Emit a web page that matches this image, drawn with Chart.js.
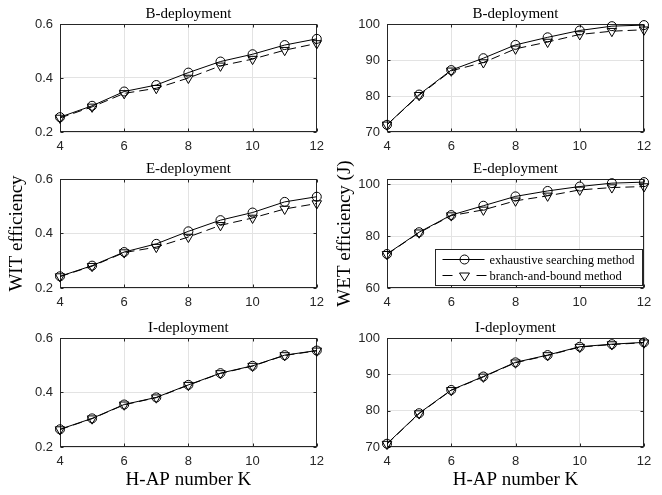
<!DOCTYPE html>
<html lang="en">
<head>
  <meta charset="UTF-8" />
  <title>WIT / WET efficiency vs H-AP number</title>
  <script src="https://cdn.jsdelivr.net/npm/chart.js"></script>
  <style>
    body { margin: 0; background: #fff; }
    .panel { position: absolute; }
  </style>
</head>
<body>
  <!-- 3 x 2 grid of subplots -->
  <div class="panel" style="left:0;top:0;width:331px;height:155px"><canvas id="witB"></canvas></div>
  <div class="panel" style="left:331px;top:0;width:331px;height:155px"><canvas id="wetB"></canvas></div>
  <div class="panel" style="left:0;top:155px;width:331px;height:155px"><canvas id="witE"></canvas></div>
  <div class="panel" style="left:331px;top:155px;width:331px;height:155px"><canvas id="wetE"></canvas></div>
  <div class="panel" style="left:0;top:310px;width:331px;height:185px"><canvas id="witI"></canvas></div>
  <div class="panel" style="left:331px;top:310px;width:331px;height:185px"><canvas id="wetI"></canvas></div>

  <script>
    // H-AP number K
    const K = [4, 5, 6, 7, 8, 9, 10, 11, 12];

    // B-deployment
    const witB_exh = [0.255, 0.297, 0.350, 0.374, 0.420, 0.461, 0.488, 0.522, 0.545];
    const witB_bnb = [0.252, 0.293, 0.343, 0.362, 0.400, 0.445, 0.470, 0.503, 0.528];
    const wetB_exh = [72.0, 80.4, 87.2, 90.5, 94.2, 96.3, 98.2, 99.4, 99.7];
    const wetB_bnb = [72.0, 80.2, 87.0, 89.3, 93.1, 95.0, 97.1, 98.0, 98.4];

    // E-deployment
    const witE_exh = [0.243, 0.282, 0.332, 0.362, 0.408, 0.449, 0.477, 0.516, 0.535];
    const witE_bnb = [0.242, 0.280, 0.330, 0.350, 0.387, 0.430, 0.457, 0.490, 0.510];
    const wetE_exh = [73.1, 81.5, 88.1, 91.7, 95.3, 97.4, 99.1, 100.4, 100.8];
    const wetE_bnb = [73.0, 81.3, 87.9, 90.1, 93.6, 95.5, 97.8, 98.7, 99.1];

    // I-deployment
    const witI_exh = [0.265, 0.305, 0.356, 0.382, 0.428, 0.471, 0.498, 0.537, 0.554];
    const witI_bnb = [0.264, 0.304, 0.355, 0.381, 0.427, 0.470, 0.497, 0.536, 0.553];
    const wetI_exh = [70.9, 79.3, 85.7, 89.4, 93.3, 95.3, 97.6, 98.3, 98.8];
    const wetI_bnb = [70.8, 79.2, 85.6, 89.3, 93.2, 95.2, 97.5, 98.2, 98.7];

    // tick labels
    const xTicks = [4, 6, 8, 10, 12];
    const witTicks = [0.2, 0.4, 0.6];
    const wetTicks = [70, 80, 90, 100];
    const wetETicks = [60, 80, 100];

    const seriesNames = ['exhaustive searching method', 'branch-and-bound method'];

    const tickFont = { family: 'Liberation Sans', size: 13 };
    const serif = 'Liberation Serif';

    // MATLAB-style axes box with inward tick marks
    const axesBox = {
      id: 'axesBox',
      beforeDatasetsDraw(chart) {
        const { ctx, chartArea: a, scales: { x, y } } = chart;
        const l = Math.round(a.left) + 0.5, r = Math.round(a.right) - 0.5;
        const t = Math.round(a.top) + 0.5, b = Math.round(a.bottom) - 0.5;
        ctx.save();
        ctx.strokeStyle = '#262626';
        ctx.lineWidth = 1;
        ctx.strokeRect(l, t, r - l, b - t);
        ctx.beginPath();
        x.ticks.forEach(tk => {
          const px = Math.round(x.getPixelForValue(tk.value)) + 0.5;
          ctx.moveTo(px, b); ctx.lineTo(px, b - 3);
          ctx.moveTo(px, t); ctx.lineTo(px, t + 3);
        });
        y.ticks.forEach(tk => {
          const py = Math.round(y.getPixelForValue(tk.value)) + 0.5;
          ctx.moveTo(l, py); ctx.lineTo(l + 3, py);
          ctx.moveTo(r, py); ctx.lineTo(r - 3, py);
        });
        ctx.stroke();
        ctx.restore();
      }
    };

    // legend box drawn inside the plot area (bottom right)
    const insideLegend = {
      id: 'insideLegend',
      afterDraw(chart) {
        const { ctx, chartArea: a } = chart;
        const w = 207, h = 36;
        const left = Math.round(a.right) - w - 1.5, top = Math.round(a.bottom) - h - 2.5;
        ctx.save();
        ctx.fillStyle = '#fff';
        ctx.fillRect(left, top, w, h);
        ctx.strokeStyle = '#262626';
        ctx.lineWidth = 1;
        ctx.strokeRect(left, top, w, h);
        ctx.font = '12.5px ' + serif;
        ctx.textBaseline = 'middle';
        ctx.fillStyle = '#000';
        chart.data.datasets.forEach((ds, i) => {
          const yy = top + 10 + i * 16;
          ctx.strokeStyle = '#000';
          ctx.beginPath();
          if (i === 0) {
            ctx.moveTo(left + 7, yy); ctx.lineTo(left + 49, yy);
          } else {
            ctx.moveTo(left + 7, yy); ctx.lineTo(left + 17, yy);
            ctx.moveTo(left + 41, yy); ctx.lineTo(left + 51, yy);
          }
          ctx.stroke();
          const mx = left + 29;
          ctx.beginPath();
          if (i === 0) {
            ctx.arc(mx, yy, 4.5, 0, Math.PI * 2);
          } else {
            ctx.moveTo(mx - 5, yy - 2.5);
            ctx.lineTo(mx + 5, yy - 2.5);
            ctx.lineTo(mx, yy + 5.5);
            ctx.closePath();
          }
          ctx.stroke();
          ctx.fillText(ds.label, left + 54, yy + 1);
        });
        ctx.restore();
      }
    };

    function makeChart(id, cfg) {
      const toPts = arr => K.map((k, i) => ({ x: k, y: arr[i] }));
      return new Chart(document.getElementById(id), {
        type: 'line',
        data: {
          datasets: [{
            label: seriesNames[0],
            data: toPts(cfg.exh),
            borderColor: '#000',
            borderWidth: 1,
            pointStyle: 'circle',
            pointRadius: 4.5,
            pointBorderColor: '#000',
            pointBackgroundColor: 'rgba(0,0,0,0)',
            pointBorderWidth: 1,
            clip: false
          }, {
            label: seriesNames[1],
            data: toPts(cfg.bnb),
            borderColor: '#000',
            borderWidth: 1,
            borderDash: [9, 5],
            pointStyle: 'triangle',
            pointRotation: 180,
            pointRadius: 5.5,
            pointBorderColor: '#000',
            pointBackgroundColor: 'rgba(0,0,0,0)',
            pointBorderWidth: 1,
            clip: false
          }]
        },
        options: {
          animation: false,
          responsive: true,
          maintainAspectRatio: false,
          layout: { padding: { left: 0, right: cfg.padRight, top: 0, bottom: 0 } },
          plugins: {
            legend: { display: false },
            tooltip: { enabled: false },
            title: {
              display: true,
              text: cfg.title,
              fullSize: false,
              color: '#000',
              font: { family: serif, size: 15, weight: 'normal' },
              padding: { top: cfg.titleTop, bottom: cfg.titleBottom }
            }
          },
          scales: {
            x: {
              type: 'linear',
              min: 4,
              max: 12,
              afterBuildTicks: s => { s.ticks = xTicks.map(v => ({ value: v })); },
              afterFit: s => { s.height = cfg.xHeight; },
              ticks: { padding: 7, color: '#262626', font: tickFont },
              grid: { color: '#e3e3e3', drawTicks: false },
              border: { display: false },
              title: {
                display: !!cfg.xTitle,
                text: cfg.xTitle || '',
                color: '#000',
                font: { family: serif, size: 19 },
                padding: { top: 0, bottom: 4 }
              }
            },
            y: {
              type: 'linear',
              min: cfg.yMin,
              max: cfg.yMax,
              afterBuildTicks: s => { s.ticks = cfg.yTicks.map(v => ({ value: v })); },
              afterFit: s => { s.width = cfg.yWidth; },
              ticks: {
                padding: 7,
                color: '#262626',
                font: tickFont,
                callback: v => cfg.yDec ? v.toFixed(1) : String(v)
              },
              grid: { color: '#e3e3e3', drawTicks: false },
              border: { display: false },
              title: {
                display: !!cfg.yTitle,
                text: cfg.yTitle || '',
                color: '#000',
                font: { family: serif, size: 19 },
                padding: { top: cfg.yTitlePad || 4, bottom: 0 }
              }
            }
          }
        },
        plugins: cfg.legend ? [axesBox, insideLegend] : [axesBox]
      });
    }

    const leftCol = { yWidth: 60, padRight: 14, yMin: 0.2, yMax: 0.6, yTicks: witTicks, yDec: true };
    const rightCol = { yWidth: 56, padRight: 18, yMin: 70, yMax: 100, yTicks: wetTicks, yDec: false };
    const topRow = { titleTop: 5.5, titleBottom: 0.5, xHeight: 23 };
    const midRow = { titleTop: 5.5, titleBottom: 0.5, xHeight: 22 };
    const botRow = { titleTop: 9, titleBottom: 1, xHeight: 48, xTitle: 'H-AP number K' };

    makeChart('witB', { ...leftCol, ...topRow, title: 'B-deployment', exh: witB_exh, bnb: witB_bnb });
    makeChart('wetB', { ...rightCol, ...topRow, title: 'B-deployment', exh: wetB_exh, bnb: wetB_bnb });
    makeChart('witE', { ...leftCol, ...midRow, title: 'E-deployment', exh: witE_exh, bnb: witE_bnb,
      yTitle: 'WIT efficiency', yTitlePad: 6 });
    makeChart('wetE', { ...rightCol, ...midRow, title: 'E-deployment', exh: wetE_exh, bnb: wetE_bnb,
      yMin: 60, yMax: 102, yTicks: wetETicks, yTitle: 'WET efficiency (J)', yTitlePad: 3, legend: true });
    makeChart('witI', { ...leftCol, ...botRow, title: 'I-deployment', exh: witI_exh, bnb: witI_bnb });
    makeChart('wetI', { ...rightCol, ...botRow, title: 'I-deployment', exh: wetI_exh, bnb: wetI_bnb });
  </script>
</body>
</html>
